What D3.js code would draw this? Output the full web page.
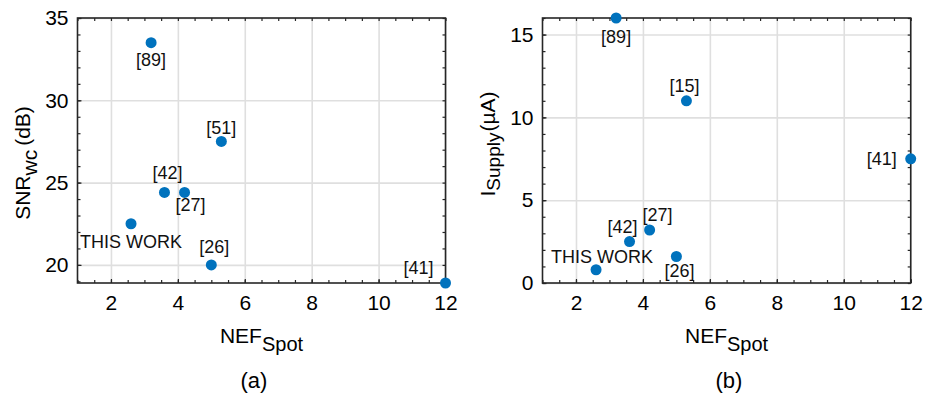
<!DOCTYPE html>
<html>
<head>
<meta charset="utf-8">
<script src="https://cdn.jsdelivr.net/npm/d3@7"></script>
<style>
  html, body { margin: 0; padding: 0; background: #fff; }
  svg { display: block; font-family: "Liberation Sans", Arial, Helvetica, sans-serif; }
</style>
</head>
<body>
<svg id="fig" width="927" height="399"></svg>
<script>
// ---- data ----
const nefTicks = [2, 4, 6, 8, 10, 12];

// (a) worst-case SNR vs spot NEF
const refsA = ["[89]", "[51]", "[42]", "[27]", "THIS WORK", "[26]", "[41]"];
const nefA  = [3.2, 5.3, 3.6, 4.2, 2.6, 5.0, 12];
const snrA  = [33.5, 27.5, 24.4, 24.4, 22.5, 20.0, 18.9];
const snrTicks = [20, 25, 30, 35];

// (b) supply current vs spot NEF
const refsB = ["[89]", "[15]", "[41]", "[27]", "[42]", "[26]", "THIS WORK"];
const nefB  = [3.2, 5.3, 12, 4.2, 3.6, 5.0, 2.6];
const isupB = [16, 11, 7.5, 3.2, 2.5, 1.6, 0.8];
const isupTicks = [0, 5, 10, 15];

// ---- label placement (offsets of label centre from marker) ----
const placeA = {
  "[89]": [0, 17], "[51]": [0, -13], "[42]": [3, -19], "[27]": [6, 13],
  "THIS WORK": [0, 18], "[26]": [3, -18], "[41]": [-12, -15, "end"]
};
const placeB = {
  "[89]": [0, 19], "[15]": [-2, -15], "[41]": [-14, 0, "end"], "[27]": [8, -15],
  "[42]": [-7, -15], "[26]": [3, 14], "THIS WORK": [6, -13]
};

const BLUE = "#0072BD", AX = "#262626", GRID = "#dfdfdf";
const svg = d3.select("#fig");

function panel(opt) {
  const { left, right, top, bottom } = opt;
  const x = d3.scaleLinear().domain([1, 12]).range([left, right]);
  const y = d3.scaleLinear().domain(opt.yDomain).range([bottom, top]);
  const g = svg.append("g");

  const xMinor = d3.range(1, 12.01, 0.5);
  const yMinor = d3.range(Math.ceil(opt.yDomain[0]), opt.yDomain[1] + 0.01, 1);

  // grid
  g.append("g").attr("transform", `translate(0,${bottom})`)
    .call(d3.axisBottom(x).tickValues(nefTicks).tickSize(-(bottom - top)).tickFormat(""))
    .call(s => { s.select(".domain").remove(); s.selectAll("line").attr("stroke", GRID).attr("stroke-width", 1.6); });
  g.append("g").attr("transform", `translate(${left},0)`)
    .call(d3.axisLeft(y).tickValues(opt.yTicks).tickSize(-(right - left)).tickFormat(""))
    .call(s => { s.select(".domain").remove(); s.selectAll("line").attr("stroke", GRID).attr("stroke-width", 1.6); });

  const styleTicks = s => {
    s.select(".domain").remove();
    s.selectAll("line").attr("stroke", AX).attr("stroke-width", 1.2);
  };
  // minor ticks on all four sides
  g.append("g").attr("transform", `translate(0,${bottom})`)
    .call(d3.axisBottom(x).tickValues(xMinor).tickSize(-3).tickFormat("")).call(styleTicks);
  g.append("g").attr("transform", `translate(0,${top})`)
    .call(d3.axisTop(x).tickValues(xMinor).tickSize(-3).tickFormat("")).call(styleTicks);
  g.append("g").attr("transform", `translate(${left},0)`)
    .call(d3.axisLeft(y).tickValues(yMinor).tickSize(-3).tickFormat("")).call(styleTicks);
  g.append("g").attr("transform", `translate(${right},0)`)
    .call(d3.axisRight(y).tickValues(yMinor).tickSize(-3).tickFormat("")).call(styleTicks);

  // major ticks with labels
  g.append("g").attr("transform", `translate(0,${bottom})`)
    .call(d3.axisBottom(x).tickValues(nefTicks).tickSize(-4).tickPadding(12).tickFormat(d3.format("d")))
    .call(styleTicks)
    .call(s => s.selectAll("text").attr("font-size", 21).attr("fill", "#000").attr("font-family", null));
  g.append("g").attr("transform", `translate(${left},0)`)
    .call(d3.axisLeft(y).tickValues(opt.yTicks).tickSize(-4).tickPadding(9).tickFormat(d3.format("d")))
    .call(styleTicks)
    .call(s => s.selectAll("text").attr("font-size", 21).attr("fill", "#000").attr("font-family", null));

  // axes box
  g.append("rect").attr("x", left).attr("y", top)
    .attr("width", right - left).attr("height", bottom - top)
    .attr("fill", "none").attr("stroke", AX).attr("stroke-width", 1.6);

  // markers
  const pts = opt.refs.map((r, i) => ({ r, xv: opt.xs[i], yv: opt.ys[i] }));
  g.append("g").selectAll("circle").data(pts).join("circle")
    .attr("cx", d => x(d.xv)).attr("cy", d => y(d.yv)).attr("r", 5.5)
    .attr("fill", BLUE);

  // point labels
  g.append("g").selectAll("text").data(pts).join("text")
    .attr("x", d => x(d.xv) + opt.place[d.r][0])
    .attr("y", d => y(d.yv) + opt.place[d.r][1])
    .attr("text-anchor", d => opt.place[d.r][2] || "middle")
    .attr("dominant-baseline", "central")
    .attr("font-size", 18).attr("fill", "#111")
    .text(d => d.r);

  // x label NEF_Spot
  const xl = g.append("text").attr("x", (left + right) / 2).attr("y", 343)
    .attr("text-anchor", "middle").attr("font-size", 21).attr("fill", "#000");
  xl.append("tspan").text("NEF");
  xl.append("tspan").attr("dy", 8).attr("font-size", 20).text("Spot");

  // y label
  const yl = g.append("text")
    .attr("transform", `translate(${opt.yLabelX},${opt.yLabelY}) rotate(-90)`)
    .attr("text-anchor", "middle").attr("font-size", 21).attr("fill", "#000");
  yl.append("tspan").text(opt.yMain);
  yl.append("tspan").attr("dy", opt.subDy).attr("font-size", opt.subSize).text(opt.ySub);
  yl.append("tspan").attr("dy", -opt.subDy).attr("dx", opt.unitGap).text(opt.yUnit);

  // panel caption
  g.append("text").attr("x", opt.capX).attr("y", 388).attr("text-anchor", "middle")
    .attr("font-size", 22).attr("fill", "#000").text(opt.caption);
}

panel({
  left: 77.5, right: 445.5, top: 18, bottom: 283,
  yDomain: [18.9, 35], yTicks: snrTicks,
  refs: refsA, xs: nefA, ys: snrA, place: placeA,
  yMain: "SNR", ySub: "wc", yUnit: "(dB)", subDy: 7, subSize: 21, unitGap: 4,
  yLabelX: 30, yLabelY: 163, capX: 254, caption: "(a)"
});

panel({
  left: 542.5, right: 910.7, top: 18, bottom: 283,
  yDomain: [0, 16], yTicks: isupTicks,
  refs: refsB, xs: nefB, ys: isupB, place: placeB,
  yMain: "I", ySub: "Supply", yUnit: "(µA)", subDy: 5, subSize: 19, unitGap: 1,
  yLabelX: 495, yLabelY: 144, capX: 729, caption: "(b)"
});
</script>
</body>
</html>
